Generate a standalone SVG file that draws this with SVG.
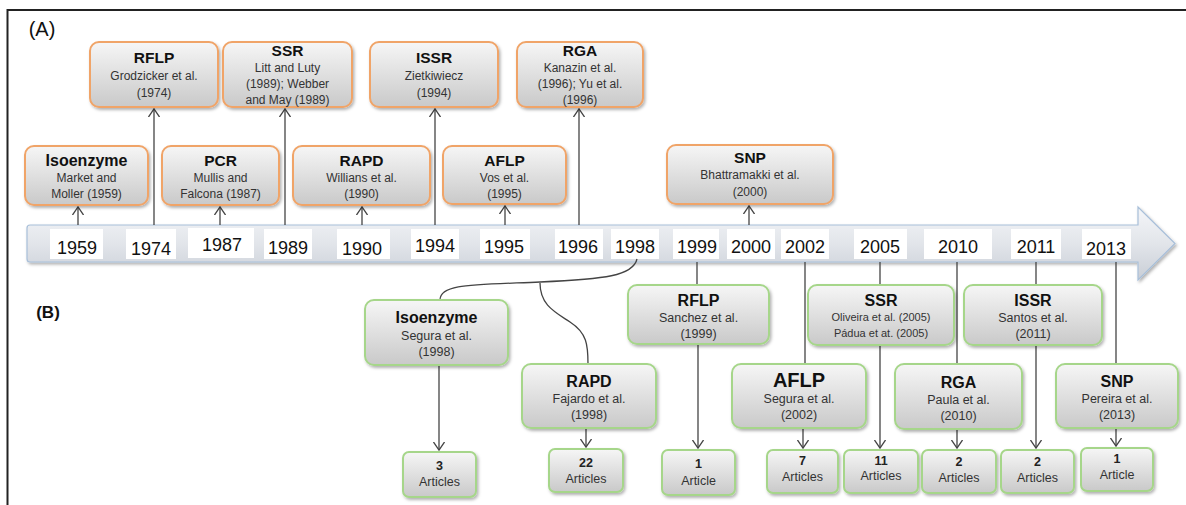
<svg xmlns="http://www.w3.org/2000/svg" width="1186" height="505" viewBox="0 0 1186 505">
<style>
text{font-family:"Liberation Sans",Arial,sans-serif;text-anchor:middle;fill:#222}
.t{font-weight:bold;font-size:15.5px;fill:#111}
.tb{font-weight:bold;font-size:16px;fill:#111}
.b{font-size:12px;fill:#333}
.bb{font-size:12.5px;fill:#333}
.s{font-size:11px;fill:#333}
.yr{font-size:18px;fill:#111}
.n{font-weight:bold;font-size:12.5px;fill:#222}
.a{font-size:12.5px;fill:#333}
.ob{fill:url(#gf);stroke:#f0a468;stroke-width:2;filter:url(#sh)}
.gb{fill:url(#gf);stroke:#a6d68a;stroke-width:2;filter:url(#sh)}
.yb{fill:#fff}
.c{stroke:#444;stroke-width:1.3;fill:none}
.ca{stroke:#444;stroke-width:1.3;fill:none;marker-end:url(#chev)}
</style>
<defs>
<linearGradient id="gf" x1="0" y1="0" x2="0" y2="1">
<stop offset="0" stop-color="#f6f6f6"/>
<stop offset="1" stop-color="#c9c9c9"/>
</linearGradient>
<linearGradient id="bar" x1="0" y1="0" x2="0" y2="1">
<stop offset="0" stop-color="#f4f6f9"/>
<stop offset="0.5" stop-color="#e2e5ea"/>
<stop offset="1" stop-color="#c9ced6"/>
</linearGradient>
<filter id="sh" x="-10%" y="-10%" width="130%" height="140%">
<feDropShadow dx="1.5" dy="2" stdDeviation="1.5" flood-color="#000" flood-opacity="0.3"/>
</filter>
<marker id="chev" viewBox="0 0 10 12" refX="8" refY="6" markerWidth="10" markerHeight="12" markerUnits="userSpaceOnUse" orient="auto">
<path d="M0,0.5 L8,6 L0,11.5" fill="none" stroke="#444" stroke-width="1.3"/>
</marker>
</defs>
<rect width="1186" height="505" fill="#fff"/>
<g id="frame">
<line x1="7" y1="10" x2="1186" y2="10" stroke="#222" stroke-width="2"/>
<line x1="7.5" y1="9" x2="7.5" y2="505" stroke="#222" stroke-width="2"/>
</g>
<text x="42" y="36" style="font-size:20px;fill:#111">(A)</text>
<text x="48" y="318" style="font-size:17px;font-weight:bold;fill:#111">(B)</text>
<g id="timeline">
<path d="M30,225 H1138 V207 L1175,243.5 L1138,280 V262 H30 Q27,262 27,259 V228 Q27,225 30,225 Z" fill="url(#bar)" stroke="#a8bfd9" stroke-width="1.2" filter="url(#sh)"/>
<rect class="yb" x="50" y="229" width="53" height="30"/><text class="yr" x="77" y="254">1959</text>
<rect class="yb" x="126" y="229" width="50" height="30"/><text class="yr" x="151" y="255">1974</text>
<rect class="yb" x="188" y="228" width="66" height="30"/><text class="yr" x="222" y="251">1987</text>
<rect class="yb" x="264" y="229" width="48" height="30"/><text class="yr" x="288" y="254">1989</text>
<rect class="yb" x="337" y="229" width="53" height="30"/><text class="yr" x="362" y="255">1990</text>
<rect class="yb" x="411" y="229" width="48" height="30"/><text class="yr" x="435" y="252">1994</text>
<rect class="yb" x="480" y="229" width="50" height="30"/><text class="yr" x="504" y="253">1995</text>
<rect class="yb" x="555" y="229" width="48" height="30"/><text class="yr" x="578" y="253">1996</text>
<rect class="yb" x="611" y="229" width="48" height="30"/><text class="yr" x="635" y="253">1998</text>
<rect class="yb" x="673" y="229" width="46" height="30"/><text class="yr" x="697" y="253">1999</text>
<rect class="yb" x="727" y="229" width="48" height="30"/><text class="yr" x="751" y="253">2000</text>
<rect class="yb" x="781" y="229" width="48" height="30"/><text class="yr" x="805" y="253">2002</text>
<rect class="yb" x="854" y="229" width="53" height="30"/><text class="yr" x="880" y="253">2005</text>
<rect class="yb" x="924" y="229" width="68" height="30"/><text class="yr" x="958" y="253">2010</text>
<rect class="yb" x="1011" y="229" width="50" height="30"/><text class="yr" x="1036" y="253">2011</text>
<rect class="yb" x="1082" y="229" width="49" height="30"/><text class="yr" x="1106" y="255">2013</text>
</g>
<g id="connectors">
<line class="ca" x1="78" y1="225" x2="78" y2="207"/>
<line class="ca" x1="154" y1="225" x2="154" y2="109"/>
<line class="ca" x1="220" y1="225" x2="220" y2="207"/>
<line class="ca" x1="285" y1="225" x2="285" y2="109"/>
<line class="ca" x1="362" y1="225" x2="362" y2="207"/>
<line class="ca" x1="435" y1="225" x2="435" y2="109"/>
<line class="ca" x1="505" y1="225" x2="505" y2="206"/>
<line class="ca" x1="579" y1="225" x2="579" y2="109"/>
<line class="ca" x1="749" y1="225" x2="749" y2="206"/>
<path class="c" d="M637,259 C633,276 605,279 540,282 C470,285 440,284 440,300"/>
<path class="c" d="M540,283 C540,305 555,312 570,322 C587,333 588,345 588,364"/>
<line class="ca" x1="439" y1="365" x2="439" y2="450"/>
<line class="ca" x1="586" y1="428" x2="586" y2="447"/>
<line class="c" x1="697" y1="262" x2="697" y2="285"/>
<line class="ca" x1="698" y1="344" x2="698" y2="448"/>
<line class="c" x1="805" y1="262" x2="805" y2="364"/>
<line class="ca" x1="803" y1="428" x2="803" y2="448"/>
<line class="c" x1="880" y1="262" x2="880" y2="285"/>
<line class="ca" x1="880" y1="345" x2="880" y2="448"/>
<line class="c" x1="957" y1="262" x2="957" y2="364"/>
<line class="ca" x1="957" y1="429" x2="957" y2="448"/>
<line class="c" x1="1036" y1="262" x2="1036" y2="285"/>
<line class="ca" x1="1036" y1="345" x2="1036" y2="448"/>
<line class="c" x1="1116" y1="262" x2="1116" y2="364"/>
<line class="ca" x1="1116" y1="428" x2="1116" y2="446"/>
</g>
<g id="a-rflp"><rect class="ob" x="90" y="42" width="128" height="65" rx="9"/><text class="t" x="154" y="63">RFLP</text><text class="b" x="154" y="80">Grodzicker et al.</text><text class="b" x="154" y="97">(1974)</text></g>
<g id="a-ssr"><rect class="ob" x="223" y="42" width="129" height="65" rx="9"/><text class="t" x="287.5" y="56">SSR</text><text class="b" x="287.5" y="72">Litt and Luty</text><text class="b" x="287.5" y="88">(1989); Webber</text><text class="b" x="287.5" y="104">and May (1989)</text></g>
<g id="a-issr"><rect class="ob" x="370" y="42" width="128" height="65" rx="9"/><text class="t" x="434" y="63">ISSR</text><text class="b" x="434" y="80">Zietkiwiecz</text><text class="b" x="434" y="97">(1994)</text></g>
<g id="a-rga"><rect class="ob" x="517" y="42" width="126" height="65" rx="9"/><text class="t" x="580" y="56">RGA</text><text class="b" x="580" y="72">Kanazin et al.</text><text class="b" x="580" y="88">(1996); Yu et al.</text><text class="b" x="580" y="104">(1996)</text></g>
<g id="a-isoenzyme"><rect class="ob" x="25" y="146" width="123" height="59" rx="9"/><text class="tb" x="86.5" y="166">Isoenzyme</text><text class="b" x="86.5" y="182">Market and</text><text class="b" x="86.5" y="198">Moller (1959)</text></g>
<g id="a-pcr"><rect class="ob" x="162" y="146" width="117" height="59" rx="9"/><text class="t" x="220.5" y="166">PCR</text><text class="b" x="220.5" y="182">Mullis and</text><text class="b" x="220.5" y="198">Falcona (1987)</text></g>
<g id="a-rapd"><rect class="ob" x="293" y="146" width="137" height="59" rx="9"/><text class="t" x="361.5" y="166">RAPD</text><text class="b" x="361.5" y="182">Willians et al.</text><text class="b" x="361.5" y="198">(1990)</text></g>
<g id="a-aflp"><rect class="ob" x="443" y="146" width="123" height="58" rx="9"/><text class="t" x="504.5" y="166">AFLP</text><text class="b" x="504.5" y="182">Vos et al.</text><text class="b" x="504.5" y="198">(1995)</text></g>
<g id="a-snp"><rect class="ob" x="667" y="145" width="166" height="59" rx="9"/><text class="t" x="750" y="163">SNP</text><text class="b" x="750" y="179">Bhattramakki et al.</text><text class="b" x="750" y="196">(2000)</text></g>
<g id="b-isoenzyme"><rect class="gb" x="365" y="300" width="143" height="65" rx="9"/><text class="tb" x="436.5" y="323">Isoenzyme</text><text class="bb" x="436.5" y="340">Segura et al.</text><text class="bb" x="436.5" y="356">(1998)</text></g>
<g id="b-rapd"><rect class="gb" x="522" y="364" width="134" height="64" rx="9"/><text class="tb" x="589" y="387">RAPD</text><text class="bb" x="589" y="403">Fajardo et al.</text><text class="bb" x="589" y="419">(1998)</text></g>
<g id="b-rflp"><rect class="gb" x="628" y="285" width="141" height="59" rx="9"/><text class="tb" x="698.5" y="306">RFLP</text><text class="bb" x="698.5" y="322">Sanchez et al.</text><text class="bb" x="698.5" y="338">(1999)</text></g>
<g id="b-aflp"><rect class="gb" x="732" y="364" width="134" height="64" rx="9"/><text x="799" y="387" style="font-weight:bold;font-size:20px;fill:#111">AFLP</text><text class="bb" x="799" y="403">Segura et al.</text><text class="bb" x="799" y="419">(2002)</text></g>
<g id="b-ssr"><rect class="gb" x="808" y="285" width="146" height="60" rx="9"/><text class="tb" x="881" y="306">SSR</text><text class="s" x="881" y="321">Oliveira et al. (2005)</text><text class="s" x="881" y="337">Pádua et at. (2005)</text></g>
<g id="b-rga"><rect class="gb" x="895" y="364" width="127" height="65" rx="9"/><text class="tb" x="958.5" y="388">RGA</text><text class="bb" x="958.5" y="404">Paula et al.</text><text class="bb" x="958.5" y="420">(2010)</text></g>
<g id="b-issr"><rect class="gb" x="964" y="285" width="138" height="60" rx="9"/><text class="tb" x="1033" y="306">ISSR</text><text class="bb" x="1033" y="322">Santos et al.</text><text class="bb" x="1033" y="338">(2011)</text></g>
<g id="b-snp"><rect class="gb" x="1056" y="364" width="122" height="64" rx="9"/><text class="tb" x="1117" y="387">SNP</text><text class="bb" x="1117" y="403">Pereira et al.</text><text class="bb" x="1117" y="419">(2013)</text></g>
<g id="n-3"><rect class="gb" x="403" y="452" width="73" height="45" rx="6"/><text class="n" x="439.5" y="470">3</text><text class="a" x="439.5" y="486">Articles</text></g>
<g id="n-22"><rect class="gb" x="549" y="449" width="74" height="43" rx="6"/><text class="n" x="586" y="467">22</text><text class="a" x="586" y="483">Articles</text></g>
<g id="n-1a"><rect class="gb" x="662" y="450" width="73" height="45" rx="6"/><text class="n" x="698.5" y="468">1</text><text class="a" x="698.5" y="485">Article</text></g>
<g id="n-7"><rect class="gb" x="767" y="450" width="71" height="43" rx="6"/><text class="n" x="802.5" y="465">7</text><text class="a" x="802.5" y="481">Articles</text></g>
<g id="n-11"><rect class="gb" x="844" y="450" width="74" height="43" rx="6"/><text class="n" x="881" y="465">11</text><text class="a" x="881" y="480">Articles</text></g>
<g id="n-2a"><rect class="gb" x="922" y="450" width="74" height="43" rx="6"/><text class="n" x="959" y="466">2</text><text class="a" x="959" y="482">Articles</text></g>
<g id="n-2b"><rect class="gb" x="1001" y="450" width="73" height="43" rx="6"/><text class="n" x="1037.5" y="466">2</text><text class="a" x="1037.5" y="482">Articles</text></g>
<g id="n-1b"><rect class="gb" x="1081" y="448" width="72" height="43" rx="6"/><text class="n" x="1117" y="463">1</text><text class="a" x="1117" y="479">Article</text></g>
</svg>
